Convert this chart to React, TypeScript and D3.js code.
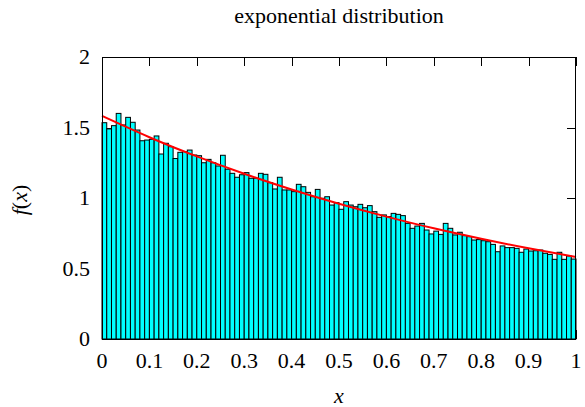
import React from 'react';
import * as d3 from 'd3';

// histogram of 100 bins on [0, 1)
const binValues = [
  1.534, 1.49, 1.513, 1.6, 1.518, 1.572, 1.537, 1.482, 1.406, 1.411,
  1.416, 1.44, 1.312, 1.388, 1.364, 1.28, 1.324, 1.329, 1.34, 1.305,
  1.3, 1.25, 1.274, 1.25, 1.227, 1.303, 1.204, 1.175, 1.147, 1.165,
  1.18, 1.14, 1.14, 1.175, 1.168, 1.109, 1.064, 1.147, 1.057, 1.057,
  1.045, 1.097, 1.08, 1.04, 1.009, 1.061, 0.998, 1.009, 0.95, 0.967,
  0.92, 0.974, 0.95, 0.938, 0.955, 0.931, 0.946, 0.903, 0.863, 0.88,
  0.868, 0.891, 0.884, 0.875, 0.82, 0.785, 0.801, 0.82, 0.773, 0.745,
  0.765, 0.742, 0.82, 0.785, 0.738, 0.757, 0.733, 0.726, 0.702, 0.705,
  0.697, 0.69, 0.671, 0.619, 0.66, 0.648, 0.648, 0.643, 0.615, 0.638,
  0.624, 0.626, 0.631, 0.608, 0.6, 0.565, 0.615, 0.565, 0.589, 0.567,
];
const binWidth = 0.01;

// theoretical density (red curve)
const curveX = [0, 0.1, 0.2, 0.3, 0.4, 0.5, 0.6, 0.7, 0.8, 0.9, 1];
const curveY = [1.582, 1.431, 1.295, 1.172, 1.06, 0.959, 0.868, 0.785, 0.711, 0.643, 0.582];

const xTicks = [0, 0.1, 0.2, 0.3, 0.4, 0.5, 0.6, 0.7, 0.8, 0.9, 1];
const yTicks = [0, 0.5, 1, 1.5, 2];

const W = 585;
const H = 407;
const plot = { left: 102, right: 576, top: 57, bottom: 339 };
const font = '"Liberation Serif", "Times New Roman", serif';
const tickLen = 9;

export default function App() {
  const x = d3.scaleLinear().domain([0, 1]).range([plot.left, plot.right]);
  const y = d3.scaleLinear().domain([0, 2]).range([plot.bottom, plot.top]);

  const line = d3.line<number>()
    .x((_, i) => x(curveX[i]))
    .y(d => y(d))
    .curve(d3.curveNatural);

  return (
    <svg width={W} height={H} style={{ position: 'absolute', left: 0, top: 0, background: '#fff' }}
      fontFamily={font}>
      <text x={(plot.left + plot.right) / 2} y={23} textAnchor="middle" fontSize={22}>
        exponential distribution
      </text>

      {/* ticks (mirrored on all sides) */}
      <g stroke="#000" strokeWidth={1}>
        {xTicks.map(t => (
          <g key={'xt' + t}>
            <line x1={Math.round(x(t)) + 0.5} x2={Math.round(x(t)) + 0.5} y1={plot.top} y2={plot.top + tickLen} />
            <line x1={Math.round(x(t)) + 0.5} x2={Math.round(x(t)) + 0.5} y1={plot.bottom} y2={plot.bottom - tickLen} />
          </g>
        ))}
        {yTicks.map(t => (
          <g key={'yt' + t}>
            <line x1={plot.left} x2={plot.left + tickLen} y1={Math.round(y(t)) + 0.5} y2={Math.round(y(t)) + 0.5} />
            <line x1={plot.right} x2={plot.right - tickLen} y1={Math.round(y(t)) + 0.5} y2={Math.round(y(t)) + 0.5} />
          </g>
        ))}
      </g>

      {/* histogram bars */}
      <g fill="#00ffff" stroke="#000" strokeWidth={1}>
        {binValues.map((v, i) => (
          <rect key={i} x={x(i * binWidth)} y={y(v)}
            width={x((i + 1) * binWidth) - x(i * binWidth)} height={y(0) - y(v)} />
        ))}
      </g>

      <path d={line(curveY) || ''} fill="none" stroke="#ff0000" strokeWidth={2} />

      <rect x={plot.left + 0.5} y={plot.top + 0.5} width={plot.right - plot.left - 1}
        height={plot.bottom - plot.top} fill="none" stroke="#000" strokeWidth={1} />

      {/* tick labels */}
      <g fontSize={22} fill="#000">
        {xTicks.map(t => (
          <text key={'xl' + t} x={x(t)} y={368} textAnchor="middle">{d3.format('~g')(t)}</text>
        ))}
        {yTicks.map(t => (
          <text key={'yl' + t} x={90} y={y(t)} dy="0.34em" textAnchor="end">{d3.format('~g')(t)}</text>
        ))}
      </g>

      <text x={(plot.left + plot.right) / 2} y={403} textAnchor="middle" fontSize={22} fontStyle="italic">x</text>
      <text transform={`translate(27, ${(plot.top + plot.bottom) / 2 + 2}) rotate(-90)`} textAnchor="middle" fontSize={22}>
        <tspan fontStyle="italic">f</tspan>(<tspan fontStyle="italic">x</tspan>)
      </text>
    </svg>
  );
}
